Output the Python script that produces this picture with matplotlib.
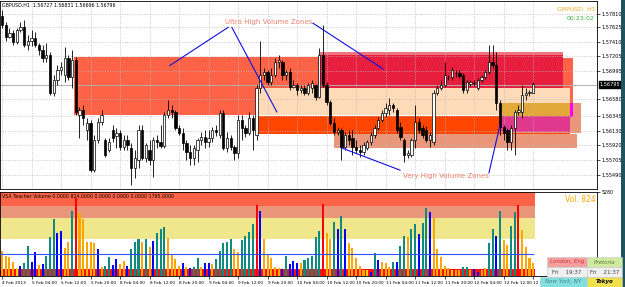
import matplotlib.pyplot as plt
from matplotlib.patches import Rectangle
import matplotlib.transforms as mtrans

# Data: GBPUSD H1 candles.
opens = [1.5779, 1.5765, 1.5748, 1.5754, 1.5741, 1.5758, 1.5762, 1.5736, 1.5743, 1.5746,
         1.5736, 1.5729, 1.5718, 1.5722, 1.5668, 1.5686, 1.5700, 1.5693, 1.5718, 1.5690,
         1.5715, 1.5635, 1.5643, 1.5614, 1.5624, 1.5556, 1.5599, 1.5625, 1.5599, 1.5585,
         1.5614, 1.5605, 1.5610, 1.5589, 1.5599, 1.5588, 1.5559, 1.5571, 1.5614, 1.5574,
         1.5585, 1.5571, 1.5599, 1.5597, 1.5591, 1.5635, 1.5643, 1.5640, 1.5617, 1.5610,
         1.5595, 1.5582, 1.5574, 1.5585, 1.5599, 1.5604, 1.5597, 1.5602, 1.5614, 1.5607,
         1.5638, 1.5588, 1.5602, 1.5589, 1.5581, 1.5628, 1.5617, 1.5610, 1.5631, 1.5607,
         1.5674, 1.5693, 1.5697, 1.5683, 1.5693, 1.5712, 1.5712, 1.5693, 1.5697, 1.5676,
         1.5679, 1.5671, 1.5674, 1.5668, 1.5674, 1.5679, 1.5661, 1.5722, 1.5679, 1.5654,
         1.5624, 1.5611, 1.5614, 1.5589, 1.5607, 1.5602, 1.5589, 1.5585, 1.5582, 1.5588,
         1.5597, 1.5607, 1.5617, 1.5628, 1.5638, 1.5643, 1.5650, 1.5643, 1.5618, 1.5599,
         1.5578, 1.5578, 1.5599, 1.5625, 1.5617, 1.5614, 1.5599, 1.5597, 1.5668, 1.5674,
         1.5679, 1.5689, 1.5690, 1.5696, 1.5696, 1.5693, 1.5671, 1.5680, 1.5682, 1.5674,
         1.5686, 1.5690, 1.5697, 1.5712, 1.5707, 1.5653, 1.5618, 1.5614, 1.5597, 1.5617,
         1.5640, 1.5640, 1.5664, 1.5668, 1.5668]
highs = [1.5787, 1.5769, 1.5761, 1.5758, 1.5761, 1.5769, 1.5772, 1.5751, 1.5758, 1.5755,
         1.5739, 1.5736, 1.5739, 1.5726, 1.5693, 1.5707, 1.5712, 1.5733, 1.5722, 1.5729,
         1.5719, 1.5647, 1.5650, 1.5631, 1.5628, 1.5607, 1.5631, 1.5643, 1.5602, 1.5602,
         1.5621, 1.5617, 1.5614, 1.5607, 1.5607, 1.5595, 1.5585, 1.5621, 1.5621, 1.5595,
         1.5599, 1.5604, 1.5607, 1.5621, 1.5640, 1.5657, 1.5650, 1.5643, 1.5621, 1.5617,
         1.5599, 1.5592, 1.5592, 1.5602, 1.5611, 1.5614, 1.5614, 1.5618, 1.5621, 1.5643,
         1.5643, 1.5611, 1.5607, 1.5592, 1.5635, 1.5635, 1.5621, 1.5640, 1.5635, 1.5679,
         1.5743, 1.5703, 1.5700, 1.5703, 1.5718, 1.5722, 1.5715, 1.5700, 1.5703, 1.5686,
         1.5682, 1.5679, 1.5679, 1.5682, 1.5686, 1.5680, 1.5732, 1.5765, 1.5683, 1.5657,
         1.5631, 1.5618, 1.5617, 1.5611, 1.5614, 1.5614, 1.5599, 1.5592, 1.5597, 1.5599,
         1.5611, 1.5621, 1.5633, 1.5643, 1.5653, 1.5660, 1.5653, 1.5646, 1.5625, 1.5602,
         1.5585, 1.5602, 1.5650, 1.5631, 1.5621, 1.5620, 1.5611, 1.5671, 1.5679, 1.5686,
         1.5712, 1.5693, 1.5705, 1.5700, 1.5700, 1.5696, 1.5686, 1.5686, 1.5686, 1.5689,
         1.5693, 1.5700, 1.5736, 1.5736, 1.5726, 1.5657, 1.5621, 1.5617, 1.5621, 1.5643,
         1.5650, 1.5679, 1.5674, 1.5671, 1.5683]
lows = [1.5761, 1.5743, 1.5746, 1.5736, 1.5738, 1.5755, 1.5733, 1.5730, 1.5735, 1.5733,
        1.5722, 1.5712, 1.5712, 1.5664, 1.5663, 1.5679, 1.5693, 1.5683, 1.5686, 1.5674,
        1.5635, 1.5602, 1.5621, 1.5599, 1.5553, 1.5553, 1.5595, 1.5621, 1.5575, 1.5582,
        1.5597, 1.5588, 1.5585, 1.5585, 1.5585, 1.5535, 1.5545, 1.5559, 1.5571, 1.5568,
        1.5563, 1.5546, 1.5588, 1.5588, 1.5588, 1.5631, 1.5631, 1.5614, 1.5607, 1.5585,
        1.5571, 1.5563, 1.5563, 1.5568, 1.5592, 1.5588, 1.5589, 1.5597, 1.5605, 1.5602,
        1.5585, 1.5582, 1.5585, 1.5571, 1.5574, 1.5599, 1.5604, 1.5607, 1.5585, 1.5599,
        1.5668, 1.5686, 1.5679, 1.5679, 1.5690, 1.5703, 1.5686, 1.5686, 1.5671, 1.5674,
        1.5664, 1.5667, 1.5664, 1.5664, 1.5667, 1.5657, 1.5660, 1.5676, 1.5650, 1.5621,
        1.5607, 1.5607, 1.5571, 1.5585, 1.5592, 1.5578, 1.5581, 1.5575, 1.5578, 1.5585,
        1.5592, 1.5602, 1.5614, 1.5625, 1.5633, 1.5635, 1.5640, 1.5610, 1.5599, 1.5568,
        1.5574, 1.5575, 1.5588, 1.5610, 1.5602, 1.5597, 1.5589, 1.5592, 1.5664, 1.5671,
        1.5676, 1.5686, 1.5686, 1.5690, 1.5689, 1.5668, 1.5667, 1.5677, 1.5677, 1.5671,
        1.5683, 1.5687, 1.5694, 1.5703, 1.5643, 1.5607, 1.5599, 1.5585, 1.5585, 1.5578,
        1.5635, 1.5631, 1.5657, 1.5663, 1.5667]
closes = [1.5765, 1.5748, 1.5754, 1.5741, 1.5758, 1.5762, 1.5736, 1.5743, 1.5746, 1.5736,
          1.5729, 1.5718, 1.5722, 1.5668, 1.5686, 1.5700, 1.5705, 1.5718, 1.5690, 1.5715,
          1.5640, 1.5643, 1.5631, 1.5624, 1.5556, 1.5599, 1.5625, 1.5635, 1.5578, 1.5597,
          1.5602, 1.5610, 1.5589, 1.5599, 1.5592, 1.5559, 1.5574, 1.5614, 1.5574, 1.5592,
          1.5571, 1.5599, 1.5597, 1.5591, 1.5635, 1.5643, 1.5640, 1.5617, 1.5610, 1.5595,
          1.5582, 1.5574, 1.5588, 1.5599, 1.5604, 1.5597, 1.5602, 1.5614, 1.5611, 1.5638,
          1.5588, 1.5602, 1.5589, 1.5581, 1.5628, 1.5617, 1.5610, 1.5631, 1.5614, 1.5674,
          1.5693, 1.5697, 1.5683, 1.5693, 1.5712, 1.5715, 1.5693, 1.5697, 1.5676, 1.5679,
          1.5671, 1.5674, 1.5668, 1.5679, 1.5682, 1.5661, 1.5722, 1.5679, 1.5654, 1.5624,
          1.5611, 1.5614, 1.5589, 1.5607, 1.5599, 1.5589, 1.5585, 1.5582, 1.5592, 1.5597,
          1.5607, 1.5617, 1.5628, 1.5638, 1.5646, 1.5650, 1.5646, 1.5614, 1.5604, 1.5578,
          1.5581, 1.5599, 1.5625, 1.5614, 1.5607, 1.5599, 1.5607, 1.5668, 1.5674, 1.5679,
          1.5693, 1.5689, 1.5700, 1.5696, 1.5692, 1.5671, 1.5683, 1.5683, 1.5682, 1.5686,
          1.5690, 1.5697, 1.5712, 1.5707, 1.5653, 1.5618, 1.5610, 1.5597, 1.5617, 1.5640,
          1.5643, 1.5664, 1.5668, 1.5668, 1.5680]

# Volume histogram (tick volume) and colour code per bar:
# o = orange, t = teal, b = blue, r = red, y = yellow
volumes = [1580, 1270, 1210, 900, 530, 650, 840, 1890, 900, 1520,
           710, 780, 1270, 2450, 3560, 2700, 2820, 1770, 2140, 4060,
           4870, 3940, 3560, 2140, 2130, 2080, 1700, 590, 650, 1210,
           710, 1090, 780, 960, 650, 1700, 2140, 2330, 2140, 2320,
           1830, 2200, 2700, 2950, 3070, 2390, 1330, 1080, 650, 840,
           590, 530, 590, 1150, 590, 840, 830, 770, 1090, 1580,
           2080, 2140, 2330, 1700, 1520, 2260, 2510, 2760, 3260, 4430,
           4060, 2330, 1330, 1150, 590, 530, 470, 1270, 780, 960,
           840, 840, 1020, 1150, 1270, 2450, 2820, 4500, 2700, 2330,
           3380, 2950, 3750, 2940, 2080, 1770, 1150, 650, 400, 410,
           280, 1460, 1020, 900, 840, 590, 900, 900, 1890, 2510,
           2450, 2950, 3260, 2640, 3320, 4250, 4000, 3630, 1700, 1210,
           650, 530, 400, 400, 410, 590, 590, 400, 470, 280,
           400, 530, 2080, 2950, 2510, 4060, 2260, 1950, 3130, 4000,
           4430, 2880, 1830, 1150, 824]
vol_codes = ("ooooybttbbo" "btttbbootr" "ooooobottb" "boobtttoto" "btttoooobo"
             "bttobbottt" "ttoottttrb" "ooooobtbbb" "otttttroot" "btboooooyb"
             "tboootbtto" "ttbttboooo" "oyoottobbo" "ottbtoottr" "oooo")

# Volume levels of the VSA bands
band_tomato = 4370
band_salmon = 3630
band_khaki = 2325
avg_level = 1400
strip_level = 450

# Zones: (start bar, end bar, low, high, colour)
zones = [
    (19.5, 86.7, 1.5635, 1.5719, '#FF6347'),
    (86.2, 152.0, 1.5674, 1.5722, '#E81E3E'),
    (86.2, 152.0, 1.5722, 1.5727, '#EE7480'),
    (152.0, 154.7, 1.5633, 1.5718, '#FF6347'),
    (69.4, 153.9, 1.5635, 1.5674, '#FDDAB8'),
    (69.4, 153.9, 1.5608, 1.5634, '#FF4500'),
    (135.0, 156.9, 1.5610, 1.5653, '#E9967A'),
    (90.0, 155.8, 1.5588, 1.5608, '#E9967A'),
    (135.0, 153.9, 1.5634, 1.5653, '#E2A93A'),
    (135.0, 153.9, 1.5611, 1.5634, '#E0388C'),
    (153.9, 154.7, 1.5633, 1.5653, '#FF00FF'),
]

price_ticks = [1.57810, 1.57625, 1.57410, 1.57205, 1.56995, 1.56580,
               1.56345, 1.56130, 1.55920, 1.55705, 1.55490]
last_price = 1.56795
time_labels = ["4 Feb 2013", "5 Feb 04:00", "5 Feb 12:00", "5 Feb 20:00",
               "8 Feb 04:00", "8 Feb 12:00", "8 Feb 20:00", "9 Feb 04:00",
               "9 Feb 12:00", "9 Feb 20:00", "10 Feb 04:00", "10 Feb 12:00",
               "10 Feb 20:00", "11 Feb 04:00", "11 Feb 12:00", "11 Feb 20:00",
               "12 Feb 04:00", "12 Feb 12:00", "12 Feb 20:00"]

code_colors = {'o': '#FFA500', 't': '#0E8A7E', 'b': '#0000FF',
               'r': '#FF0000', 'y': '#FFD700'}

n = len(opens)
idx = list(range(n))
xlim = (-0.55, 161.3)

plt.rcParams['font.family'] = ['DejaVu Sans']
fig = plt.figure(figsize=(6.25, 2.87), dpi=100)
fig.patch.set_facecolor('white')

# Price panel.
ax = fig.add_axes([0.0, 0.3415, 0.9552, 0.655])
ax.set_xlim(*xlim)
ax.set_ylim(1.55288, 1.5800)

for x0, x1, lo, hi, col in zones:
    ax.add_patch(Rectangle((x0, lo), x1 - x0, hi - lo, facecolor=col,
                           edgecolor='none', zorder=1))

grid_kw = dict(color='#B8B8B8', lw=0.5, linestyle=(0, (1.5, 2)), zorder=2)
for t in price_ticks:
    ax.axhline(t, **grid_kw)
for k in range(0, n, 8):
    ax.axvline(k, **grid_kw)
ax.axhline(last_price, color='#B0B0B0', lw=0.7, zorder=2)

ax.vlines(idx, lows, highs, color='black', lw=0.6, zorder=3)
bodies = [max(abs(c - o), 0.00004) for o, c in zip(opens, closes)]
bottoms = [min(o, c) for o, c in zip(opens, closes)]
fills = ['white' if c >= o else 'black' for o, c in zip(opens, closes)]
ax.bar(idx, bodies, bottom=bottoms, width=0.62, color=fills,
       edgecolor='black', lw=0.5, zorder=4)

ax.yaxis.tick_right()
ax.set_yticks(price_ticks)
ax.set_yticklabels(["%.5f" % t for t in price_ticks], fontsize=3.6)
ax.tick_params(axis='y', length=2, width=0.5, pad=1.5)
ax.set_xticks([])
for s in ax.spines.values():
    s.set_linewidth(0.6)

tr = mtrans.blended_transform_factory(ax.transAxes, ax.transData)
ax.text(1.004, last_price, "1.56795", transform=tr, fontsize=3.6,
        color='white', va='center', ha='left',
        bbox=dict(facecolor='black', edgecolor='black', pad=0.5), zorder=6)

ax.text(0.004, 0.99, "GBPUSD,H1  1.56727 1.56831 1.56696 1.56796",
        transform=ax.transAxes, fontsize=3.4, va='top', ha='left')
ax.text(0.997, 0.955, "GBPUSD  H1", transform=ax.transAxes, fontsize=4.5,
        color='#F5A623', va='center', ha='right')
ax.text(0.995, 0.905, "00:23:02", transform=ax.transAxes, fontsize=4.5,
        color='#3CB043', va='center', ha='right')

# Annotations.
note_col = '#F08070'
ax.text(72.4, 1.5769, "Ultra High Volume Zones", fontsize=5, color=note_col,
        ha='center', va='center', zorder=6)
ax.text(120.3, 1.5548, "Very High Volume Zones", fontsize=5, color=note_col,
        ha='center', va='center', zorder=6)
arrows = [((61.3, 1.5762), (45.5, 1.5707)),
          ((62.3, 1.5762), (74.5, 1.5640)),
          ((84.3, 1.5768), (103.3, 1.5702)),
          ((107.9, 1.5556), (92.1, 1.5588)),
          ((132.0, 1.5552), (135.0, 1.5621))]
for (xa, ya), (xb, yb) in arrows:
    ax.plot([xa, xb], [ya, yb], color='#1010E0', lw=0.8, zorder=5)

# Volume panel.
axv = fig.add_axes([0.0, 0.0366, 0.9552, 0.2944])
axv.set_xlim(*xlim)
axv.set_ylim(0, 5240)
band_end = 145 / (xlim[1] - xlim[0])
axv.axhspan(band_tomato, 5240, xmax=band_end, color='#FF6347', lw=0, zorder=0)
axv.axhspan(band_salmon, band_tomato, xmax=band_end, color='#E9967A', lw=0, zorder=0)
axv.axhspan(band_khaki, band_salmon, xmax=band_end, color='#F0E68C', lw=0, zorder=0)
axv.bar(idx, [strip_level] * n, width=1.0, color='#FF1010', lw=0, zorder=1)
axv.bar(idx, volumes, width=0.55, color=[code_colors[c] for c in vol_codes],
        lw=0, zorder=2)
axv.axhline(avg_level, xmax=144.6 / (xlim[1] - xlim[0]), color='#3050FF',
            lw=0.8, zorder=3)

axv.set_xticks(range(0, n, 8))
axv.set_xticklabels(time_labels, fontsize=3.1, ha='left')
axv.tick_params(axis='x', length=2, width=0.5, pad=1)
axv.yaxis.tick_right()
axv.set_yticks([5240])
axv.set_yticklabels(["5280"], fontsize=3.4)
axv.tick_params(axis='y', length=2, width=0.5, pad=1.5)
for s in axv.spines.values():
    s.set_linewidth(0.6)

axv.text(0.004, 0.98,
         "VSA Teacher Volume 0.0000 824.0000 0.0000 0.0000 0.0000 1795.0000",
         transform=axv.transAxes, fontsize=3.4, va='top', ha='left')
axv.text(0.997, 0.91, "Vol. 824", transform=axv.transAxes, fontsize=5.5,
         color='#FFA500', va='center', ha='right')

# Right window border.
fig.add_artist(Rectangle((621 / 625, 0), 4 / 625, 1, transform=fig.transFigure,
                         facecolor='#1D5460', edgecolor='none'))

# Session clocks.
def cell(x0, y0, w, h, bg, txt, col, style='italic', weight='normal'):
    fig.add_artist(Rectangle((x0 / 625, 1 - (y0 + h) / 287), w / 625, h / 287,
                             transform=fig.transFigure, facecolor=bg,
                             edgecolor='#C8C8C8', lw=0.4, zorder=5))
    fig.text((x0 + w / 2) / 625, 1 - (y0 + h / 2) / 287, txt, fontsize=4.0,
             color=col, style=style, weight=weight, ha='center', va='center',
             zorder=6)

cell(547, 257, 40, 10, '#F4A0A0', "London, Eng", '#D03030')
cell(587, 257, 35, 10, '#D0EBA0', "Pretoria", '#5A7A40')
cell(547, 267, 40, 10, '#F0F0F0', "Fri    19:37", '#404040', style='normal')
cell(587, 267, 35, 10, '#F0F0F0', "Fri    21:37", '#404040', style='normal')
cell(540, 277, 47, 10, '#80E0E0', "New York, NY", '#508080')
cell(587, 277, 35, 10, '#F0E050', "Tokyo", 'black', weight='bold')

fig.savefig("out.png", dpi=100)
